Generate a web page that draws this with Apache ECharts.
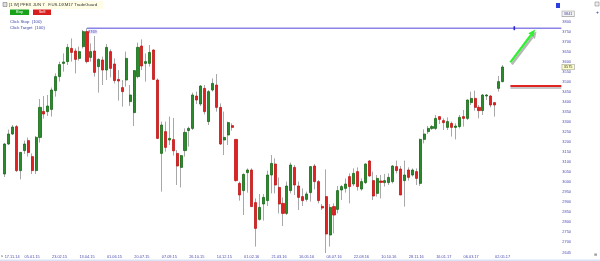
<!DOCTYPE html>
<html>
<head>
<meta charset="utf-8">
<script src="https://cdn.jsdelivr.net/npm/echarts@6/dist/echarts.min.js"></script>
<style>
html,body{margin:0;padding:0;background:#fff;}
#c{width:600px;height:261px;}
</style>
</head>
<body>
<div id="c"></div>
<script>
const categories = [
'17.11.14','24.11.14','01.12.14','08.12.14','15.12.14','22.12.14','29.12.14','05.01.15','12.01.15','19.01.15',
'26.01.15','02.02.15','09.02.15','16.02.15','23.02.15','02.03.15','09.03.15','16.03.15','23.03.15','30.03.15',
'06.04.15','13.04.15','20.04.15','27.04.15','04.05.15','11.05.15','18.05.15','25.05.15','01.06.15','08.06.15',
'15.06.15','22.06.15','29.06.15','06.07.15','13.07.15','20.07.15','27.07.15','03.08.15','10.08.15','17.08.15',
'24.08.15','31.08.15','07.09.15','14.09.15','21.09.15','28.09.15','05.10.15','12.10.15','19.10.15','26.10.15',
'02.11.15','09.11.15','16.11.15','23.11.15','30.11.15','07.12.15','14.12.15','21.12.15','28.12.15','04.01.16',
'11.01.16','18.01.16','25.01.16','01.02.16','08.02.16','15.02.16','22.02.16','29.02.16','07.03.16','14.03.16',
'21.03.16','04.04.16','11.04.16','18.04.16','25.04.16','02.05.16','09.05.16','16.05.16','23.05.16','30.05.16',
'06.06.16','13.06.16','20.06.16','27.06.16','04.07.16','11.07.16','18.07.16','25.07.16','01.08.16','08.08.16',
'15.08.16','22.08.16','29.08.16','05.09.16','12.09.16','19.09.16','26.09.16','03.10.16','10.10.16','17.10.16',
'24.10.16','31.10.16','07.11.16','14.11.16','21.11.16','28.11.16','05.12.16','12.12.16','19.12.16','26.12.16',
'02.01.17','09.01.17','16.01.17','23.01.17','30.01.17','06.02.17','13.02.17','20.02.17','27.02.17','06.03.17',
'13.03.17','20.03.17','27.03.17','03.04.17','10.04.17','17.04.17','24.04.17','02.05.17'
];
const opens = [
3040,3190,3240,3277,3057,3157,3207,3127,3057,3223,
3353,3352,3363,3457,3527,3593,3602,3668,3655,3618,
3677,3752,3623,3655,3577,3610,3560,3652,3590,3513,
3472,3510,3402,3347,3527,3680,3593,3593,3660,3510,
3143,3252,3210,3212,3143,3073,3157,3257,3268,3430,
3390,3468,3302,3460,3485,3373,3210,3235,3282,3213,
2993,2957,3047,3060,2897,2813,2890,2907,3035,3090,
2973,2893,2843,2957,3073,2980,2927,2913,2947,3080,
3002,2878,2927,2735,2877,2863,2960,2968,3027,2990,
3052,2965,2997,3105,3007,2943,3005,2997,2997,3002,
3077,3065,3007,3060,3035,3052,2993,3213,3252,3268,
3268,3327,3307,3273,3293,3273,3277,3327,3318,3397,
3418,3373,3357,3430,3430,3397,3468,3502
];
const closes = [
3190,3240,3275,3057,3148,3190,3147,3057,3223,3373,
3340,3380,3460,3527,3587,3600,3673,3648,3613,3652,
3752,3602,3652,3548,3613,3560,3673,3568,3507,3505,
3452,3618,3435,3557,3673,3580,3602,3648,3513,3218,
3285,3173,3218,3156,3080,3132,3248,3268,3435,3410,
3480,3352,3452,3493,3373,3190,3223,3297,3273,3007,
2935,3038,3060,2877,2768,2873,2923,3035,3093,2985,
2890,2843,2980,3085,2985,2923,2907,2940,3077,3002,
2907,2870,2740,2873,2835,2957,2977,2990,2977,3043,
2977,3002,3090,3030,2930,3018,2998,3007,3023,3080,
3057,2935,3035,3023,3060,3018,3213,3240,3268,3277,
3318,3313,3297,3302,3273,3280,3323,3318,3410,3418,
3373,3357,3435,3435,3385,3385,3502,3575
];
const lows = [
3025,3185,3235,3050,3013,3140,3127,3040,3040,3197,
3317,3330,3327,3427,3502,3552,3585,3602,3543,3607,
3668,3593,3602,3527,3447,3485,3510,3523,3493,3407,
3377,3477,3380,3280,3518,3560,3502,3577,3510,3215,
2952,3152,3185,3132,2985,2973,3127,3177,3260,3390,
3380,3338,3285,3452,3352,3185,3135,3185,3257,3002,
2907,2835,2947,2877,2677,2807,2807,2880,2943,2943,
2843,2780,2835,2943,2935,2860,2880,2902,2902,2963,
2893,2860,2645,2677,2743,2843,2910,2947,2893,2980,
2957,2957,2990,3027,2910,2927,2918,2977,2985,2993,
3043,2935,2877,3007,3027,2985,2980,3193,3240,3260,
3260,3290,3260,3260,3227,3213,3268,3277,3310,3385,
3357,3318,3335,3410,3373,3327,3452,3498
];
const highs = [
3195,3262,3285,3285,3150,3207,3222,3143,3230,3415,
3430,3435,3472,3543,3602,3643,3690,3718,3668,3677,
3760,3769,3693,3730,3618,3627,3690,3663,3618,3560,
3510,3652,3485,3560,3697,3713,3643,3685,3663,3518,
3302,3302,3327,3320,3160,3135,3268,3277,3447,3452,
3485,3485,3460,3518,3540,3393,3352,3302,3293,3215,
3002,3043,3068,3068,2918,2940,2940,3057,3135,3118,
3023,2923,3002,3097,3085,3002,2968,2952,3080,3090,
3010,2890,3063,2890,2893,2980,2985,3018,3043,3068,
3073,3018,3093,3110,3052,3035,3035,3040,3043,3085,
3107,3080,3107,3073,3068,3068,3217,3263,3280,3285,
3335,3327,3318,3323,3302,3293,3335,3360,3413,3452,
3457,3385,3440,3440,3435,3397,3530,3585
];
const dateTicks = ['17.11.14','05.01.15','23.02.15','13.04.15','01.06.15','20.07.15','07.09.15','26.10.15',
'14.12.15','01.02.16','21.03.16','16.05.16','04.07.16','22.08.16','10.10.16','28.11.16','16.01.17','06.03.17','02.05.17'];
const priceTicks = [2645,2700,2750,2800,2850,2900,2950,3000,3050,3100,3150,3200,3250,3300,3350,3400,
3450,3500,3550,3575,3600,3650,3700,3750,3800,3841];
const axisMin = 2645, axisMax = 3841, lastClose = 3575;
const highLevel = 3769, highIndex = 21;
const stopLevel = 3480, stopStart = 129;
const arrowFrom = [129, 3598], arrowTo = [135.3, 3762];
const markerIndex = 130;
const futureEnd = 142;

const wickData = categories.map((d,i)=>[opens[i],closes[i],lows[i],highs[i]]);
const bodyData = categories.map((d,i)=>[opens[i],closes[i],Math.min(opens[i],closes[i]),Math.max(opens[i],closes[i])]);

const FONT = 'Liberation Sans';
const AX = '#4a4ab0';
const chart = echarts.init(document.getElementById('c'), null, {renderer:'canvas'});

const chrome = [
  {type:'rect', shape:{x:0,y:259.5,width:600,height:1.5}, style:{fill:'#d6e4f6'}, silent:true},
  {type:'rect', shape:{x:3,y:2.5,width:4,height:4}, style:{fill:'#ddd', stroke:'#666', lineWidth:0.5}, silent:true},
  {type:'rect', shape:{x:8,y:1,width:95,height:8}, style:{fill:'#fffde6'}, silent:true},
  {type:'text', x:9, y:5, style:{text:'[1 W] PFEX JUN 7   F.US.DXM17 TradeGuard', fontSize:4.3, fontFamily:FONT, fill:'#333', verticalAlign:'middle'}, silent:true},
  {type:'rect', shape:{x:10,y:9.5,width:19,height:5.5}, style:{fill:'#19a319'}, silent:true},
  {type:'text', x:19.5, y:12.3, style:{text:'Buy', fontSize:4, fontFamily:FONT, fill:'#fff', align:'center', verticalAlign:'middle'}, silent:true},
  {type:'rect', shape:{x:33,y:9.5,width:18,height:5.5}, style:{fill:'#d91e1e'}, silent:true},
  {type:'text', x:42, y:12.3, style:{text:'Sell', fontSize:4, fontFamily:FONT, fill:'#fff', align:'center', verticalAlign:'middle'}, silent:true},
  {type:'text', x:10, y:22, style:{text:'Click Stop  (100)', fontSize:4.3, fontFamily:FONT, fill:'#3b44a8', verticalAlign:'middle'}, silent:true},
  {type:'text', x:10, y:28, style:{text:'Click Target  (100)', fontSize:4.3, fontFamily:FONT, fill:'#3b44a8', verticalAlign:'middle'}, silent:true},
  {type:'rect', shape:{x:556,y:3,width:4,height:5}, style:{fill:'#2b3fe0'}, silent:true},
  {type:'rect', shape:{x:595,y:2,width:4,height:4}, style:{fill:'#eee', stroke:'#777', lineWidth:0.5}, silent:true},
  {type:'text', x:596, y:13, style:{text:'+', fontSize:5, fontFamily:FONT, fill:'#2233aa', verticalAlign:'middle'}, silent:true},
  {type:'text', x:1, y:256, style:{text:'a', fontSize:3.5, fontFamily:FONT, fill:'#666', verticalAlign:'middle'}, silent:true},
  {type:'text', x:594, y:255, style:{text:'⊞', fontSize:4, fontFamily:'DejaVu Sans', fill:'#666', verticalAlign:'middle'}, silent:true}
];

chart.setOption({
  animation:false,
  backgroundColor:'#ffffff',
  grid:{left:2.74, right:36.7, top:13.8, bottom:8},
  xAxis:{
    type:'category', data:categories, max:futureEnd, boundaryGap:true,
    axisLine:{show:false}, axisTick:{show:false}, splitLine:{show:false},
    axisLabel:{
      interval:(idx,val)=>dateTicks.indexOf(val)>=0,
      formatter:(v)=>v||'',
      fontSize:3.9, fontFamily:FONT, color:AX, margin:2,
      alignMinLabel:'left'
    }
  },
  yAxis:{
    type:'value', position:'right', min:axisMin, max:axisMax, scale:true,
    axisLine:{show:false}, axisTick:{show:false}, splitLine:{show:false},
    axisLabel:{
      customValues:priceTicks,
      fontSize:3.9, fontFamily:FONT, color:AX, margin:-1,
      formatter:(v)=>{
        if (v===axisMax) return '{mx|'+v+'}';
        if (v===lastClose) return '{cur|'+v+'}';
        return String(v);
      },
      rich:{
        mx:{fontSize:3.9, fontFamily:FONT, color:AX, backgroundColor:'#f4f4f4', borderColor:'#9a9a9a', borderWidth:0.6, padding:[0.5,1.5,0.5,1.5]},
        cur:{fontSize:3.9, fontFamily:FONT, color:'#333', backgroundColor:'#ffffc8', borderColor:'#9a9a9a', borderWidth:0.6, padding:[0.5,1.5,0.5,1.5]}
      }
    }
  },
  series:[
    {
      type:'candlestick', name:'wick', data:wickData, barWidth:1, silent:true,
      itemStyle:{color:'#a8a8a8', color0:'#a8a8a8', borderColor:'#a8a8a8', borderColor0:'#a8a8a8', borderWidth:1}
    },
    {
      type:'candlestick', name:'body', data:bodyData, barWidth:2.6, silent:true,
      itemStyle:{color:'#2b8a2b', color0:'#e02222', borderColor:'#176917', borderColor0:'#c21616', borderWidth:0.8}
    }
  ],
  graphic:chrome
});

// annotation overlay positioned through the axes
const p0 = chart.convertToPixel({gridIndex:0}, [0, highLevel]);
const p1 = chart.convertToPixel({gridIndex:0}, [10, highLevel]);
const bw = (p1[0]-p0[0])/10;
const xPix = (i)=>p0[0] + i*bw;
const yPix = (v)=>chart.convertToPixel({gridIndex:0}, [0, v])[1];

const yHigh = yPix(highLevel), yStop = yPix(stopLevel);
const ax0 = xPix(arrowFrom[0]), ay0 = yPix(arrowFrom[1]);
const ax1 = xPix(arrowTo[0]), ay1 = yPix(arrowTo[1]);
const dx = ax1-ax0, dy = ay1-ay0, len = Math.sqrt(dx*dx+dy*dy);
const ux = dx/len, uy = dy/len, nx = -uy, ny = ux;
const headL = 7, headW = 3.2;
const bx = ax1 - ux*headL, by = ay1 - uy*headL;
function arrow(offX, offY, color){
  return [
    {type:'line', shape:{x1:ax0+offX, y1:ay0+offY, x2:bx+offX, y2:by+offY}, style:{stroke:color, lineWidth:2.4}, silent:true},
    {type:'polygon', shape:{points:[[ax1+offX,ay1+offY],[bx+nx*headW+offX,by+ny*headW+offY],[bx-nx*headW+offX,by-ny*headW+offY]]}, style:{fill:color}, silent:true}
  ];
}
const notes = [
  {type:'line', shape:{x1:xPix(highIndex), y1:yHigh, x2:xPix(futureEnd), y2:yHigh}, style:{stroke:'#8a84e6', lineWidth:1.6}, silent:true},
  {type:'rect', shape:{x:xPix(highIndex)+0.5, y:yHigh+1.2, width:10, height:4.6}, style:{fill:'#ececff'}, silent:true},
  {type:'text', x:xPix(highIndex)+1.2, y:yHigh+3.6, style:{text:String(highLevel), fontSize:3.8, fontFamily:FONT, fill:'#3a3ab0', verticalAlign:'middle'}, silent:true},
  {type:'rect', shape:{x:xPix(markerIndex)-0.8, y:yHigh-2, width:1.6, height:4}, style:{fill:'#2a2ad0'}, silent:true},
  {type:'line', shape:{x1:xPix(stopStart), y1:yStop+2, x2:xPix(futureEnd), y2:yStop+2}, style:{stroke:'rgba(90,90,90,0.45)', lineWidth:1.6}, silent:true},
  {type:'line', shape:{x1:xPix(stopStart), y1:yStop, x2:xPix(futureEnd), y2:yStop}, style:{stroke:'#e02424', lineWidth:1.8}, silent:true}
].concat(arrow(1.5, 2, 'rgba(90,90,90,0.45)'), arrow(0, 0, '#33ee33'));

chart.setOption({graphic: chrome.concat(notes)});
</script>
</body>
</html>
